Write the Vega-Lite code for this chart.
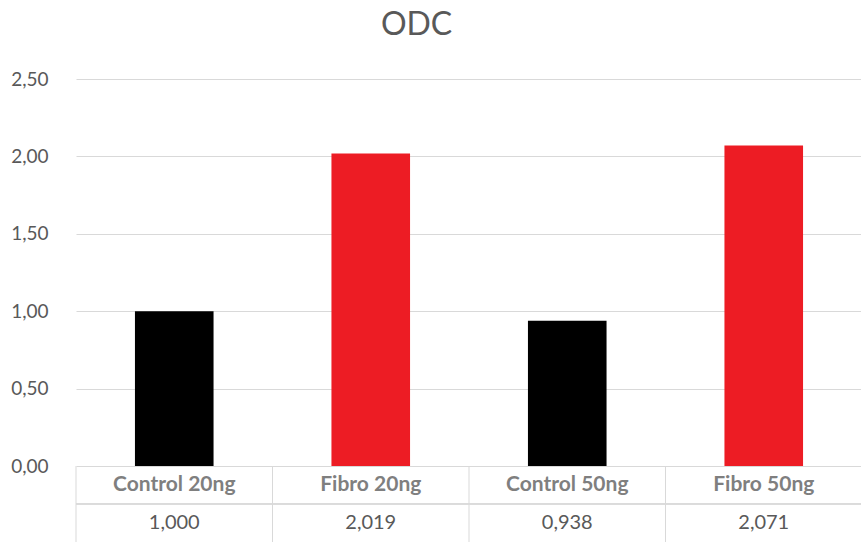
{
  "$schema": "https://vega.github.io/schema/vega-lite/v6.json",
  "padding": {"left": 10, "top": 9, "right": 0, "bottom": 1},
  "bounds": "flush",
  "config": {
    "locale": {"number": {"decimal": ",", "thousands": ".", "grouping": [3], "currency": ["", " €"]}},
    "font": "Lato",
    "view": {"stroke": null},
    "concat": {"spacing": 0}
  },
  "title": {"text": "ODC", "fontSize": 32, "fontWeight": "normal", "color": "#595959", "anchor": "middle", "offset": 28, "dx": -20, "font": "Lato"},
  "data": {"values": [
    {"category": "Control 20ng", "type": "Control", "value": 1.000},
    {"category": "Fibro 20ng", "type": "Fibro", "value": 2.019},
    {"category": "Control 50ng", "type": "Control", "value": 0.938},
    {"category": "Fibro 50ng", "type": "Fibro", "value": 2.071}
  ]},
  "vconcat": [
    {
      "width": 786,
      "height": 387,
      "mark": {"type": "bar"},
      "encoding": {
        "x": {"field": "category", "type": "nominal", "sort": null,
              "scale": {"paddingInner": 0.6, "paddingOuter": 0.3}, "axis": null},
        "y": {"field": "value", "type": "quantitative",
              "scale": {"domain": [0, 2.5]},
              "axis": {"values": [0, 0.5, 1, 1.5, 2, 2.5], "format": ".2f", "title": null,
                       "domain": false, "ticks": false, "labelPadding": 28,
                       "labelFontSize": 19, "labelColor": "#595959", "labelFont": "Lato",
                       "gridColor": "#d9d9d9", "gridWidth": 1}},
        "color": {"field": "type", "type": "nominal",
                  "scale": {"domain": ["Control", "Fibro"], "range": ["#000000", "#ed1c24"]},
                  "legend": null}
      }
    },
    {
      "width": 786,
      "height": 76,
      "layer": [
        {
          "mark": {"type": "rule", "color": "#d9d9d9", "strokeWidth": 1},
          "encoding": {
            "x": {"field": "category", "type": "nominal", "sort": null, "bandPosition": 0,
                  "scale": {"paddingInner": 0, "paddingOuter": 0}, "axis": null}
          }
        },
        {
          "mark": {"type": "rule", "color": "#d9d9d9", "strokeWidth": 1},
          "encoding": {
            "y": {"datum": "value", "type": "nominal", "bandPosition": 0,
                  "scale": {"domain": ["name", "value"], "paddingInner": 0, "paddingOuter": 0},
                  "axis": null}
          }
        },
        {
          "mark": {"type": "text", "fontSize": 21, "fontWeight": "bold", "color": "#7f7f7f", "font": "Lato"},
          "encoding": {
            "x": {"field": "category", "type": "nominal", "sort": null},
            "y": {"datum": "name", "type": "nominal"},
            "text": {"field": "category", "type": "nominal"}
          }
        },
        {
          "mark": {"type": "text", "fontSize": 20, "color": "#595959", "font": "Lato"},
          "encoding": {
            "x": {"field": "category", "type": "nominal", "sort": null},
            "y": {"datum": "value", "type": "nominal"},
            "text": {"field": "value", "type": "quantitative", "format": ".3f"}
          }
        }
      ]
    }
  ]
}
